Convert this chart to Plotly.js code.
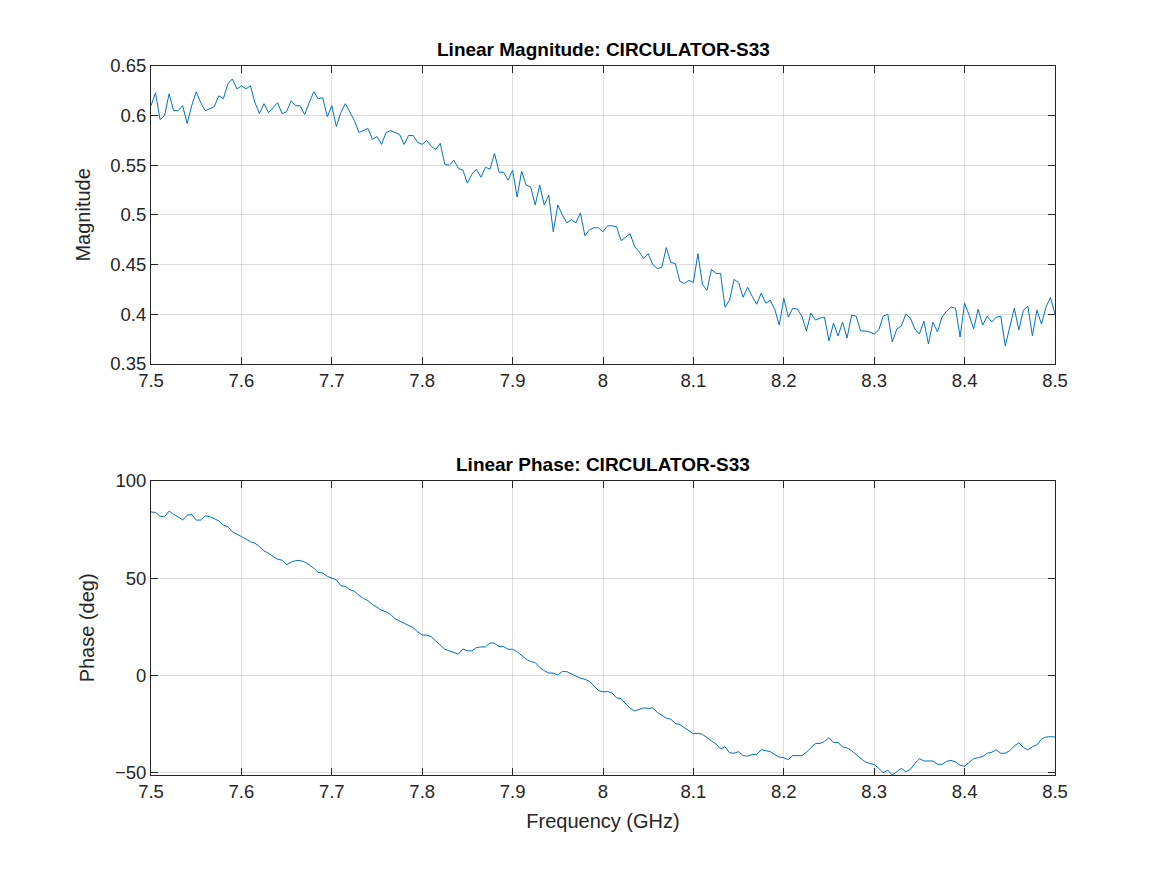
<!DOCTYPE html>
<html>
<head>
<meta charset="utf-8">
<script src="https://cdn.plot.ly/plotly-3.0.1.min.js"></script>
<style>body{margin:0;background:#fff}#chart{width:1167px;height:875px}</style>
</head>
<body>
<div id="chart"></div>
<script>
// frequency grid, 0.005 GHz step from 7.5 to 8.5
const freqStart = 7.5, freqStep = 0.005;

const magnitude = [
  0.61, 0.623, 0.596, 0.600, 0.622, 0.605, 0.605, 0.61, 0.592, 0.61,
  0.624, 0.613, 0.605, 0.607, 0.609, 0.62, 0.617, 0.632, 0.637, 0.627,
  0.63, 0.627, 0.63, 0.613, 0.602, 0.612, 0.603, 0.608, 0.613, 0.602,
  0.604, 0.615, 0.61, 0.61, 0.601, 0.613, 0.624, 0.617, 0.618, 0.599,
  0.61, 0.589, 0.603, 0.612, 0.604, 0.595, 0.583, 0.585, 0.587, 0.576,
  0.579, 0.571, 0.583, 0.585, 0.583, 0.581, 0.571, 0.58, 0.58, 0.573,
  0.571, 0.575, 0.569, 0.566, 0.572, 0.551, 0.55, 0.555, 0.547, 0.545,
  0.532, 0.541, 0.546, 0.538, 0.548, 0.546, 0.562, 0.543, 0.543, 0.535,
  0.545, 0.518, 0.544, 0.53, 0.528, 0.51, 0.53, 0.51, 0.52, 0.483,
  0.51, 0.5, 0.492, 0.495, 0.492, 0.502, 0.479, 0.485, 0.487, 0.487,
  0.483, 0.489, 0.489, 0.488, 0.474, 0.478, 0.481, 0.468, 0.463, 0.456,
  0.461, 0.45, 0.446, 0.447, 0.467, 0.452, 0.451, 0.433, 0.431, 0.434,
  0.432, 0.461, 0.43, 0.424, 0.445, 0.441, 0.441, 0.407, 0.414, 0.435,
  0.432, 0.417, 0.427, 0.418, 0.41, 0.421, 0.411, 0.414, 0.405, 0.389,
  0.416, 0.397, 0.406, 0.405, 0.398, 0.383, 0.401, 0.394, 0.396, 0.397,
  0.373, 0.391, 0.378, 0.392, 0.376, 0.399, 0.398, 0.383, 0.383, 0.382,
  0.38, 0.384, 0.398, 0.4, 0.372, 0.385, 0.388, 0.4, 0.396, 0.385,
  0.38, 0.393, 0.37, 0.392, 0.382, 0.397, 0.403, 0.407, 0.406, 0.377,
  0.411, 0.399, 0.385, 0.405, 0.389, 0.398, 0.392, 0.397, 0.398, 0.368,
  0.387, 0.406, 0.384, 0.404, 0.408, 0.378, 0.404, 0.39, 0.407, 0.417,
  0.4
];

const phase = [
  84.0, 83.7, 81.8, 81.5, 84.4, 82.7, 81.5, 79.8, 82.3, 82.7,
  79.8, 79.8, 82.0, 81.5, 80.6, 79.3, 77.2, 76.4, 73.8, 72.4,
  71.3, 70.1, 68.7, 67.9, 66.2, 63.9, 62.8, 61.1, 59.7, 59.2,
  56.8, 58.2, 59.0, 59.0, 58.2, 56.8, 55.1, 52.9, 52.6, 50.9,
  50.0, 49.1, 46.1, 45.7, 44.0, 43.2, 41.2, 39.5, 38.4, 36.4,
  35.0, 33.5, 32.7, 31.3, 29.1, 27.9, 26.5, 25.4, 24.5, 22.4,
  20.7, 20.7, 19.9, 17.7, 15.5, 13.4, 12.6, 11.7, 10.9, 13.6,
  12.6, 12.6, 14.3, 14.6, 14.6, 16.7, 16.5, 14.8, 14.8, 13.4,
  13.4, 12.2, 10.0, 8.3, 7.1, 6.6, 4.1, 2.4, 1.2, 1.2,
  0.2, 2.0, 1.9, 0.7, -0.5, -1.5, -2.0, -3.1, -5.3, -7.8,
  -8.5, -8.3, -9.0, -11.5, -12.0, -14.5, -17.0, -18.3, -17.5, -16.7,
  -17.0, -16.7, -19.0, -20.3, -22.0, -22.5, -24.7, -25.3, -27.0, -28.7,
  -30.0, -29.8, -30.3, -32.0, -33.7, -35.3, -37.8, -36.7, -39.8, -40.0,
  -39.2, -41.2, -41.5, -40.7, -40.7, -38.2, -38.7, -39.2, -40.7, -42.0,
  -42.3, -43.3, -41.2, -41.2, -41.3, -39.5, -37.0, -35.0, -35.0, -34.0,
  -32.0, -34.5, -34.5, -36.7, -37.3, -38.7, -40.7, -42.8, -44.5, -45.3,
  -45.8, -47.8, -50.0, -48.7, -51.2, -49.5, -47.8, -49.5, -48.3, -45.3,
  -42.8, -44.0, -44.0, -44.0, -45.7, -45.7, -44.2, -43.7, -44.5, -46.2,
  -46.7, -44.8, -42.8, -42.3, -41.7, -40.0, -39.5, -38.3, -40.0, -40.0,
  -38.7, -36.2, -34.7, -37.0, -38.3, -36.7, -35.7, -32.8, -31.7, -31.5,
  -31.7
];

const freq = magnitude.map((_, i) => +(freqStart + i * freqStep).toFixed(3));
const xTicks = [7.5, 7.6, 7.7, 7.8, 7.9, 8, 8.1, 8.2, 8.3, 8.4, 8.5];

const lineColor = '#0072BD';
const family = "'Liberation Sans', Arial, sans-serif";
const font = { family: family, size: 18.5, color: '#262626' };
const labelFont = { family: family, size: 20, color: '#262626' };

function axisStyle(extra) {
    return Object.assign({
        showline: true, mirror: 'ticks', linecolor: '#262626', linewidth: 1,
        ticks: 'inside', ticklen: 7, tickcolor: '#262626',
        showgrid: true, gridcolor: 'rgba(0,0,0,0.13)', gridwidth: 1,
        zeroline: false, tickfont: font
    }, extra);
}

const traces = [
    { x: freq, y: magnitude, type: 'scatter', mode: 'lines',
      line: { color: lineColor, width: 1 }, xaxis: 'x', yaxis: 'y', showlegend: false },
    { x: freq, y: phase, type: 'scatter', mode: 'lines',
      line: { color: lineColor, width: 1 }, xaxis: 'x2', yaxis: 'y2', showlegend: false }
];

const layout = {
    width: 1167, height: 875,
    paper_bgcolor: '#fff', plot_bgcolor: '#fff',
    font: font,
    margin: { l: 151, r: 112, t: 66, b: 100 },
    xaxis: axisStyle({ domain: [0, 1], anchor: 'y', range: [7.5, 8.5], tickvals: xTicks }),
    yaxis: axisStyle({ domain: [0.58, 1], anchor: 'x', range: [0.35, 0.65],
        tickvals: [0.35, 0.4, 0.45, 0.5, 0.55, 0.6, 0.65],
        title: { text: 'Magnitude', font: labelFont, standoff: 14 } }),
    xaxis2: axisStyle({ domain: [0, 1], anchor: 'y2', range: [7.5, 8.5], tickvals: xTicks,
        title: { text: 'Frequency (GHz)', font: labelFont, standoff: 12 } }),
    yaxis2: axisStyle({ domain: [0, 0.415], anchor: 'x2', range: [-51.2, 100],
        tickvals: [-50, 0, 50, 100],
        title: { text: 'Phase (deg)', font: labelFont, standoff: 14 } }),
    annotations: [
        { text: '<b>Linear Magnitude: CIRCULATOR-S33</b>', xref: 'paper', yref: 'paper',
          x: 0.5, y: 1, yanchor: 'bottom', yshift: 4, showarrow: false,
          font: { family: family, size: 19, color: '#000' } },
        { text: '<b>Linear Phase: CIRCULATOR-S33</b>', xref: 'paper', yref: 'paper',
          x: 0.5, y: 0.415, yanchor: 'bottom', yshift: 4, showarrow: false,
          font: { family: family, size: 19, color: '#000' } }
    ]
};

Plotly.newPlot('chart', traces, layout, { displayModeBar: false, staticPlot: true });
</script>
</body>
</html>
